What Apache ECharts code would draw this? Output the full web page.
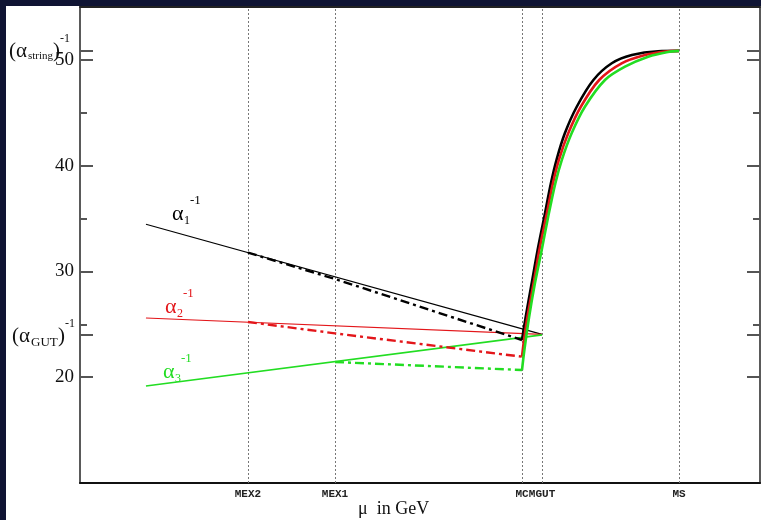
<!DOCTYPE html>
<html>
<head>
<meta charset="utf-8">
<script src="https://cdn.jsdelivr.net/npm/echarts@6.0.0/dist/echarts.min.js"></script>
<style>
	html, body { margin: 0; padding: 0; background: #0f1433; width: 761px; height: 520px; overflow: hidden; }
	#chart { position: absolute; left: 6px; top: 6px; width: 755px; height: 514px; background: #fff; }
</style>
</head>
<body>
<div id="chart"></div>
<script>
// threshold scales on the log10(mu) axis
var thresholdNames = ['MEX2', 'MEX1', 'MC', 'MGUT', 'MS'];
var thresholdScales = [4.94, 7.5, 13.0, 13.59, 17.62];

var yTickLabels = [20, 30, 40, 50];
var yMinorTicks = [25, 35, 45];
var alphaGUT = 24.05;
var alphaString = 50.85;

// one-loop running, no intermediate thresholds
var alpha1Line = [[1.94, 34.46], [13.59, 24.05]];
var alpha2Line = [[1.94, 25.6], [13.59, 24.05]];
var alpha3Line = [[1.94, 19.17], [13.59, 24.0]];

// running with the extra thresholds
var alpha1Threshold = [[4.94, 31.78], [7.5, 29.29], [13.0, 23.52]];
var alpha2Threshold = [[4.94, 25.22], [7.5, 24.15], [13.0, 21.94]];
var alpha3Threshold = [[7.5, 21.44], [13.0, 20.68]];

// above MC up to the string scale
var alpha1Stringy = [[13.0, 23.52], [13.11, 25.72], [13.285, 28.88], [13.46, 32.03], [13.656, 35.17], [13.85, 38.33], [14.02, 40.6], [14.26, 43.06], [14.61, 45.57], [15.10, 48.10], [15.64, 49.68], [16.23, 50.46], [17.0, 50.82], [17.62, 50.85]];
var alpha2Stringy = [[13.0, 21.94], [13.06, 23.52], [13.16, 25.72], [13.34, 28.88], [13.51, 32.03], [13.71, 35.17], [13.91, 38.33], [14.09, 40.6], [14.36, 43.06], [14.73, 45.57], [15.27, 48.10], [15.93, 49.68], [16.62, 50.46], [17.21, 50.8], [17.62, 50.85]];
var alpha3Stringy = [[13.0, 20.68], [13.07, 22.57], [13.21, 25.72], [13.38, 28.88], [13.58, 32.03], [13.77, 35.17], [13.98, 38.33], [14.17, 40.53], [14.46, 43.06], [14.85, 45.57], [15.44, 48.10], [16.03, 49.36], [16.71, 50.30], [17.29, 50.75], [17.62, 50.85]];

var BLACK = '#000000', RED = '#e3161a', GREEN = '#22dd22';
var SERIF = 'Liberation Serif';

function lineSeries(data, color, width, type, z) {
	return {
		type: 'line',
		data: data,
		symbol: 'none',
		silent: true,
		animation: false,
		z: z,
		lineStyle: { color: color, width: width, type: type || 'solid' }
	};
}

function curveSeries(data, color) {
	var s = lineSeries(data, color, 2.6, 'solid', 5);
	s.smooth = 0.3;
	return s;
}

function yAxisBase(position, showLine) {
	return {
		type: 'value',
		position: position,
		min: 10,
		max: 55,
		splitLine: { show: false },
		axisLine: { show: showLine, lineStyle: { color: '#5a5a5a', width: 2 } },
		axisLabel: { show: false }
	};
}

// alpha labels made of three text pieces
function alphaLabel(x, y, sub, color) {
	return [
		{ type: 'text', left: x, top: y, style: { text: 'α', font: '22px "' + SERIF + '"', fill: color } },
		{ type: 'text', left: x + 12, top: y + 12, style: { text: sub, font: '12px "' + SERIF + '"', fill: color } },
		{ type: 'text', left: x + 18, top: y - 9, style: { text: '-1', font: '13px "' + SERIF + '"', fill: color } }
	];
}

function axisSpecialLabel(x, y, sub, subSize, subWidth) {
	return [
		{ type: 'text', left: x, top: y, style: { text: '(α', font: '21px "' + SERIF + '"', fill: '#111' } },
		{ type: 'text', left: x + 19, top: y + 10, style: { text: sub, font: subSize + 'px "' + SERIF + '"', fill: '#111' } },
		{ type: 'text', left: x + 19 + subWidth, top: y, style: { text: ')', font: '21px "' + SERIF + '"', fill: '#111' } },
		{ type: 'text', left: x + 26 + subWidth, top: y - 8, style: { text: '-1', font: '12px "' + SERIF + '"', fill: '#111' } }
	];
}

var majorTicks = yTickLabels.concat([alphaGUT, alphaString]);

var yAxes = [];
['left', 'right'].forEach(function(pos) {
	var major = yAxisBase(pos, true);
	major.axisTick = { show: true, inside: true, length: 13, customValues: majorTicks, lineStyle: { color: '#555', width: 2 } };
	if (pos === 'left') {
		major.axisLabel = {
			show: true,
			customValues: yTickLabels,
			margin: 6,
			color: '#111',
			fontFamily: SERIF,
			fontSize: 19
		};
	}
	var minor = yAxisBase(pos, false);
	minor.axisTick = { show: true, inside: true, length: 7, customValues: yMinorTicks, lineStyle: { color: '#555', width: 2 } };
	yAxes.push(major, minor);
});

var graphics = []
	.concat(alphaLabel(166, 197, '1', BLACK))
	.concat(alphaLabel(159, 290, '2', RED))
	.concat(alphaLabel(157, 355, '3', GREEN))
	.concat(axisSpecialLabel(3, 35, 'string', 11, 25))
	.concat(axisSpecialLabel(6, 320, 'GUT', 13, 27))
	.concat([{ type: 'text', left: 352, top: 494, style: { text: 'μ  in GeV', font: '18px "' + SERIF + '"', fill: '#111' } }]);

var myChart = echarts.init(document.getElementById('chart'), null, { renderer: 'canvas' });

var option = {
	backgroundColor: '#ffffff',
	animation: false,
	grid: { left: 74, right: 1, top: 1, bottom: 37 },
	xAxis: [{
		type: 'value',
		position: 'bottom',
		min: 0,
		max: 20,
		splitLine: { show: false },
		axisLine: { show: true, lineStyle: { color: '#111', width: 2 } },
		axisTick: {
			show: true,
			inside: true,
			length: 476,
			customValues: thresholdScales,
			lineStyle: { color: '#777', width: 1, type: [2, 2] }
		},
		axisLabel: {
			show: true,
			customValues: thresholdScales,
			margin: 6,
			color: '#222',
			fontFamily: 'Liberation Mono',
			fontWeight: 'bold',
			fontSize: 11,
			formatter: function(val) {
				var i = thresholdScales.indexOf(val);
				return i >= 0 ? thresholdNames[i] : '';
			}
		}
	}, {
		type: 'value',
		position: 'top',
		min: 0,
		max: 20,
		splitLine: { show: false },
		axisLine: { show: true, lineStyle: { color: '#222', width: 2 } },
		axisTick: { show: false },
		axisLabel: { show: false }
	}],
	yAxis: yAxes,
	graphic: graphics,
	series: [
		lineSeries(alpha1Line, BLACK, 1.2, 'solid', 2),
		lineSeries(alpha2Line, RED, 1.2, 'solid', 2),
		lineSeries(alpha3Line, GREEN, 1.6, 'solid', 2),
		lineSeries(alpha1Threshold, BLACK, 2.4, [9, 4, 3, 4], 3),
		lineSeries(alpha2Threshold, RED, 2.4, [9, 4, 3, 4], 3),
		lineSeries(alpha3Threshold, GREEN, 2.4, [9, 4, 3, 4], 3),
		curveSeries(alpha1Stringy, BLACK),
		curveSeries(alpha2Stringy, RED),
		curveSeries(alpha3Stringy, GREEN)
	]
};
myChart.setOption(option);
</script>
</body>
</html>
